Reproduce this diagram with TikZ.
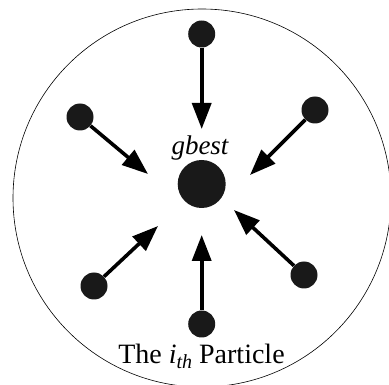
\documentclass[tikz,border=0pt]{standalone}
\usepackage{fontspec}
\setmainfont{Liberation Serif}
\usetikzlibrary{arrows.meta}

\tikzset{
  particle/.style={circle,fill=black!90,inner sep=0pt,minimum size=27pt},
  best/.style={circle,fill=black!90,inner sep=0pt,minimum size=48pt},
  move/.style={line width=3.6pt,-{Triangle[length=26pt,width=19pt]}},
}

\begin{document}
\begin{tikzpicture}[x=1pt,y=-1pt]
\useasboundingbox (0,0) rectangle (389,385);
\clip (0,0) rectangle (389,385);
% ---------- swarm boundary ----------
\draw[line width=0.6pt] (202,198) circle (189);
% ---------- global best ----------
\node[best] (g) at (201.7,184) {};
\node[font=\fontsize{27}{32}\selectfont\itshape] (glabel) at (200,148) {gbest};
% ---------- particles ----------
\node[particle] (p1) at (201.7,34) {};
\node[particle] (p2) at (315,110) {};
\node[particle] (p3) at (304,275) {};
\node[particle] (p4) at (201.7,324) {};
\node[particle] (p5) at (94,286) {};
\node[particle] (p6) at (80,117) {};
% arrow tips, short of gbest
\coordinate (t1) at (201.7,129);
\coordinate (t2) at (250,175);
\coordinate (t3) at (234,210);
\coordinate (t4) at (201.7,235);
\coordinate (t5) at (158,226);
\coordinate (t6) at (148,174);
\foreach \i in {1,...,6}
  \draw[move] (p\i) -- (t\i);
% ---------- label ----------
\node[font=\fontsize{28}{33}\selectfont,anchor=base] (plabel) at (201.5,363)
  {The \textit{i}\raisebox{-0.45ex}{\fontsize{20}{22}\selectfont\textit{th}} Particle};
\end{tikzpicture}
\end{document}
